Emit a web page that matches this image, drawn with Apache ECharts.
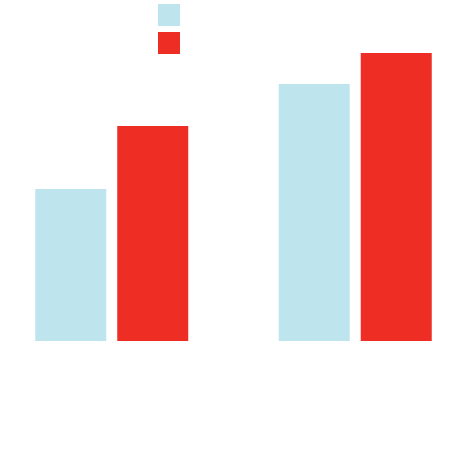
<!DOCTYPE html>
<html><head><meta charset="utf-8">
<script src="https://cdn.jsdelivr.net/npm/echarts@6/dist/echarts.min.js"></script>
<style>html,body{margin:0;padding:0;background:#fff}#c{width:471px;height:471px}</style>
</head><body><div id="c"></div>
<script>
const categories = ['A', 'B'];
const seriesNames = ['Series 1', 'Series 2'];
const series1 = [50.7, 85.7];
const series2 = [71.7, 96];
const colors = ['#bee5ee', '#ee2e25'];

const chart = echarts.init(document.getElementById('c'), null, {renderer: 'canvas'});
chart.setOption({
  animation: false,
  color: colors,
  legend: {
    orient: 'vertical', left: 158, top: 4, padding: 0, itemWidth: 22, itemHeight: 22, itemGap: 6,
    icon: 'rect', formatter: () => '', data: seriesNames
  },
  grid: {left: -10, width: 487, top: 41, bottom: 130, containLabel: false, outerBoundsMode: 'none'},
  xAxis: {type: 'category', data: categories, show: false},
  yAxis: {type: 'value', min: 0, max: 100, show: false},
  series: [
    {name: seriesNames[0], type: 'bar', data: series1, barWidth: 71, barGap: '15.5%'},
    {name: seriesNames[1], type: 'bar', data: series2, barWidth: 71}
  ]
});
</script></body></html>
